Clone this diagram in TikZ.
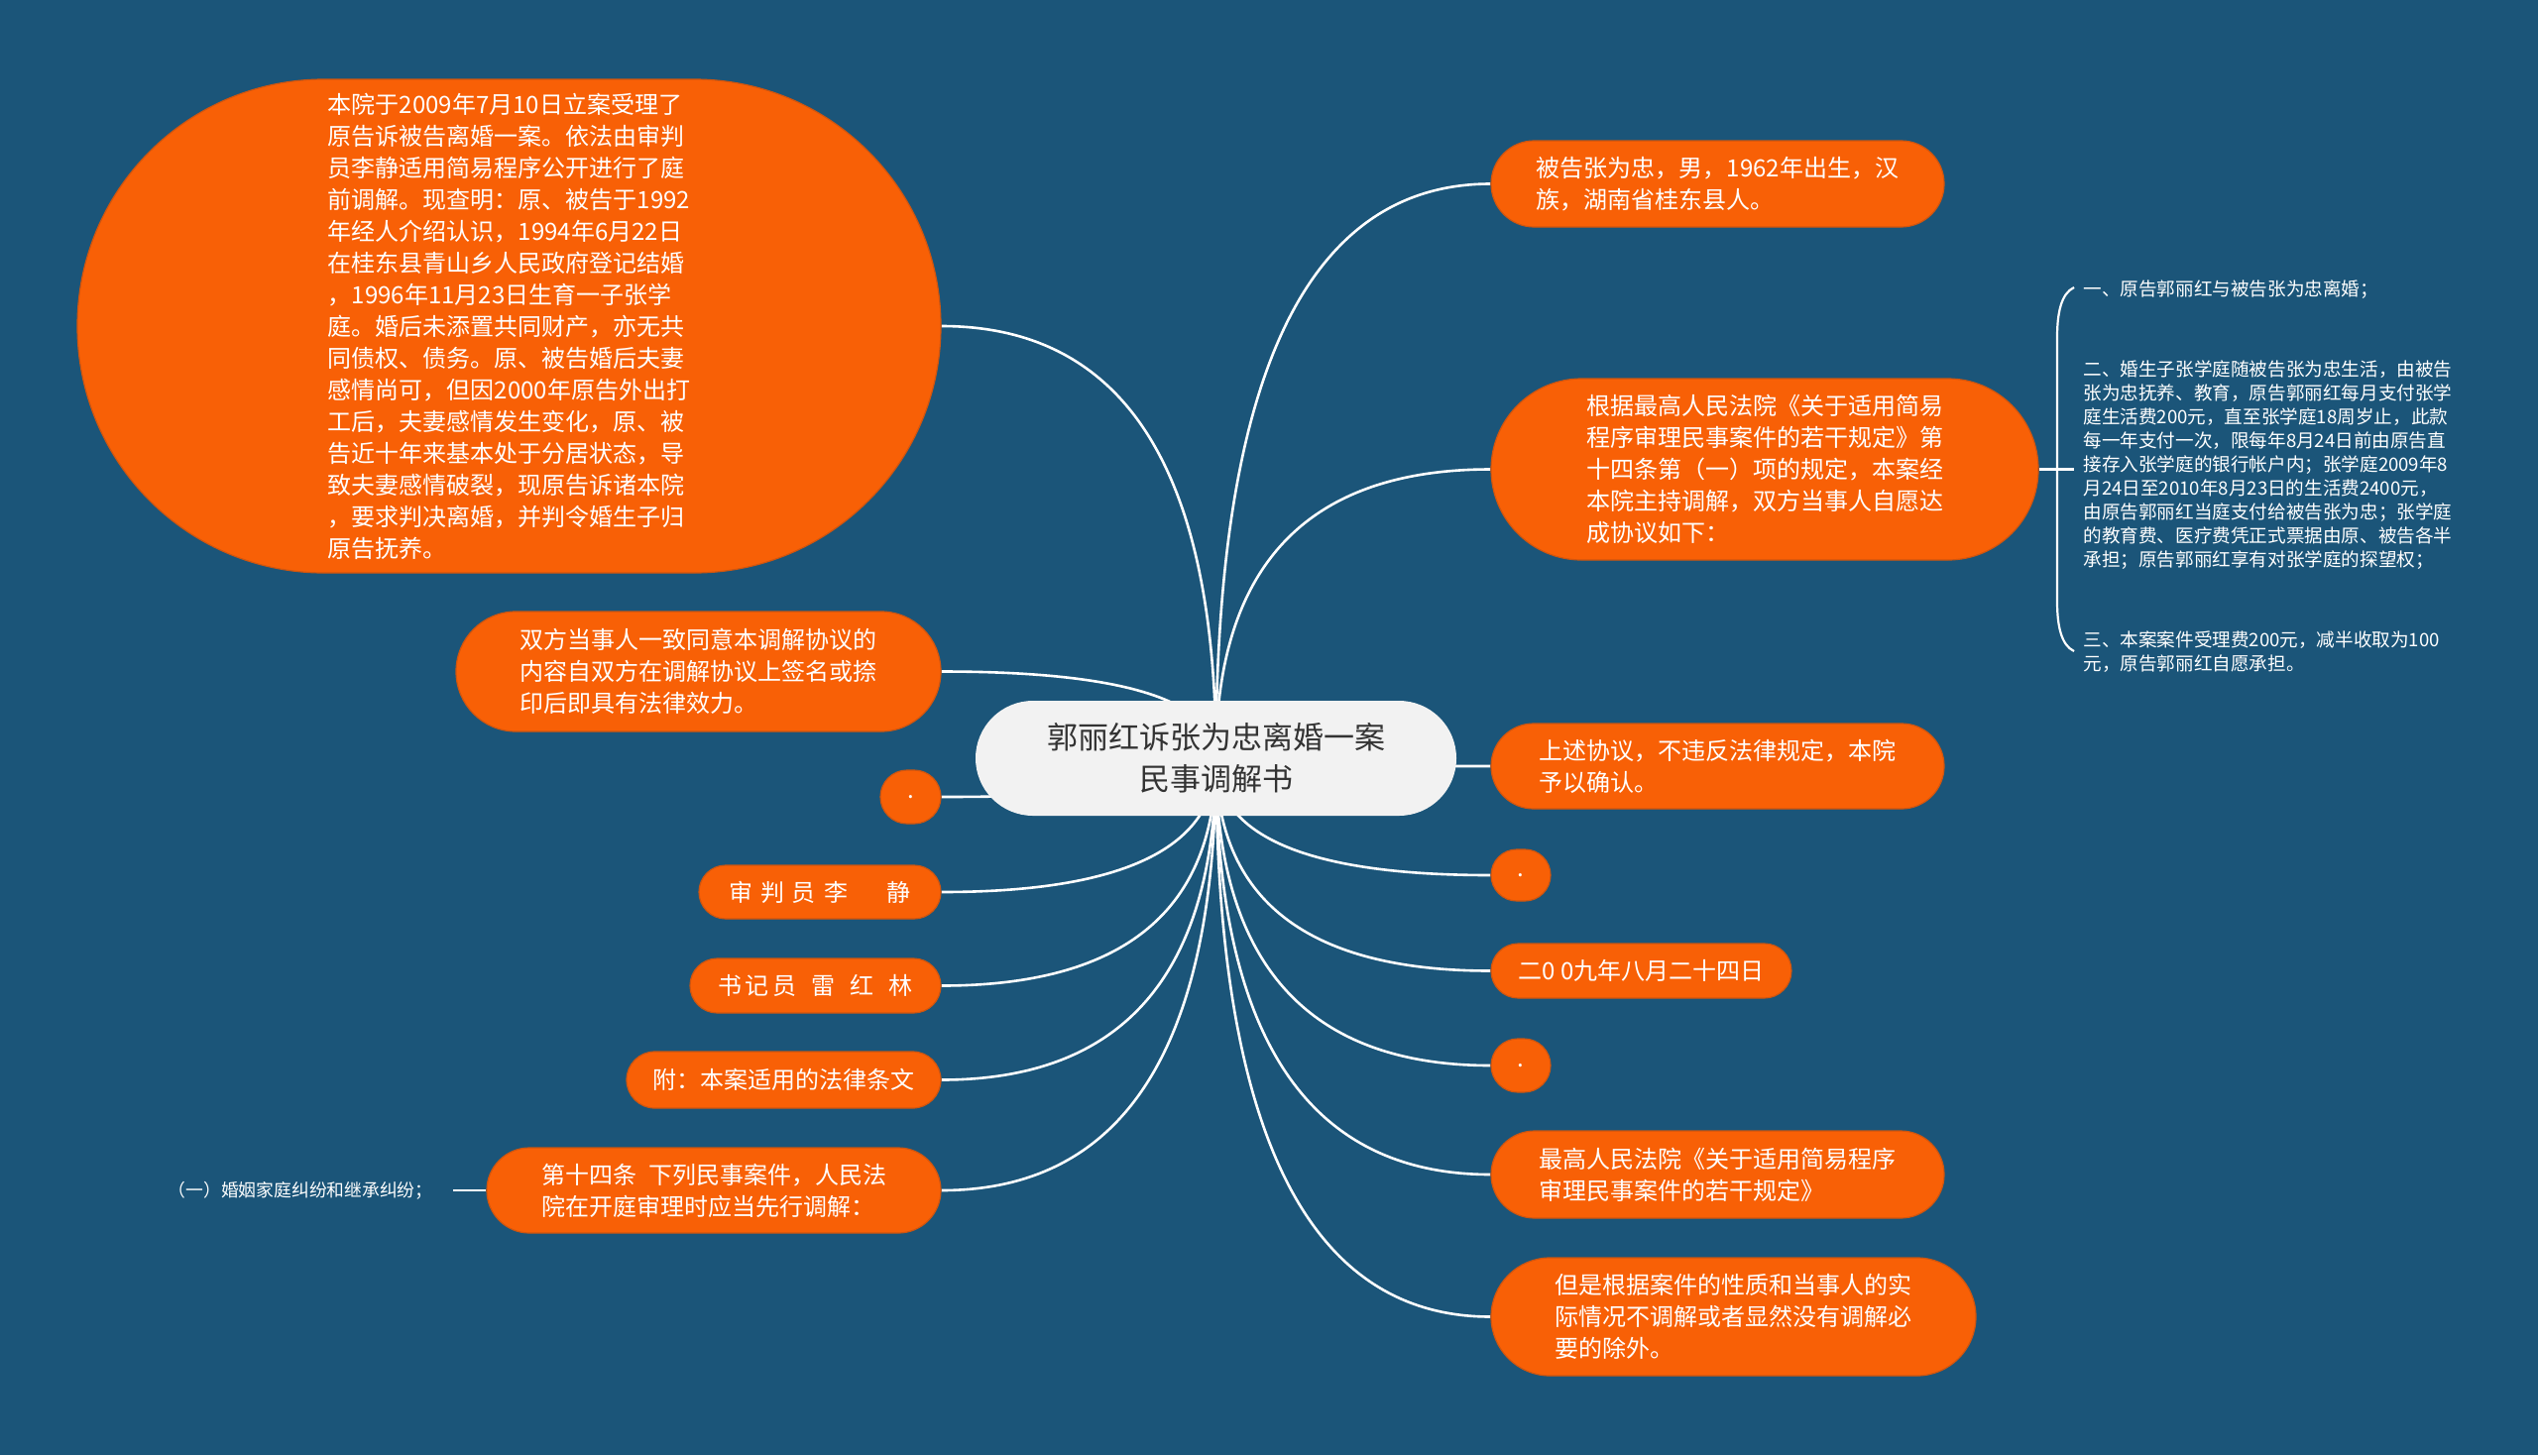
\documentclass[tikz,border=0pt]{standalone}
\usepackage{fontspec}
\setmainfont{Noto Sans CJK SC}
\usetikzlibrary{shapes.misc,calc}
\pgfdeclarelayer{bgl}
\pgfdeclarelayer{edgel}
\pgfsetlayers{bgl,edgel,main}
\definecolor{bgc}{HTML}{1B5579}
\definecolor{org}{HTML}{F86006}
\definecolor{orgd}{HTML}{D0550F}
\definecolor{ctrc}{HTML}{F2F2F2}
\definecolor{txtc}{HTML}{333333}
\newcommand\mmconn[1]{\draw[conn] (ctr.center) .. controls ($(ctr.center)!0.667!(ctr.center |- #1)$) and ($(#1)!0.667!(ctr.center |- #1)$) .. (#1);}
\begin{document}
\begin{tikzpicture}[x=0.5pt,y=-0.5pt,
  pill/.style 2 args={rounded rectangle, fill=org, draw=orgd, line width=0.6pt, text=white,
    inner sep=0pt, align=left, font=\fontsize{12}{16}\selectfont,
    minimum width=#1, minimum height=#2},
  rootbox/.style={rounded rectangle, fill=ctrc, draw=none, text=txtc, inner sep=0pt,
    align=center, font=\fontsize{15.5}{21}\selectfont, minimum width=242.5pt, minimum height=58pt},
  leaftext/.style={text=white, inner sep=0pt, align=left, font=\fontsize{9.3}{12}\selectfont},
  conn/.style={draw=white, line width=1.3pt}]
\path[use as bounding box] (0,0) rectangle (2560,1468);
\begin{pgfonlayer}{bgl}
\fill[bgc] (0,0) rectangle (2560,1468);
\end{pgfonlayer}

% root
\node[rootbox] (ctr) at (1226.5,765) {郭丽红诉张为忠离婚一案\\民事调解书};

% left side
\node[pill={435.5pt}{249pt}] (L1) at (513.5,329) {本院于2009年7月10日立案受理了\\原告诉被告离婚一案。依法由审判\\员李静适用简易程序公开进行了庭\\前调解。现查明：原、被告于1992\\年经人介绍认识，1994年6月22日\\在桂东县青山乡人民政府登记结婚\\，1996年11月23日生育一子张学\\庭。婚后未添置共同财产，亦无共\\同债权、债务。原、被告婚后夫妻\\感情尚可，但因2000年原告外出打\\工后，夫妻感情发生变化，原、被\\告近十年来基本处于分居状态，导\\致夫妻感情破裂，现原告诉诸本院\\，要求判决离婚，并判令婚生子归\\原告抚养。};
\node[pill={244.5pt}{60.5pt}] (L2) at (704.5,677.5) {双方当事人一致同意本调解协议的\\内容自双方在调解协议上签名或捺\\印后即具有法律效力。};
\node[pill={30.5pt}{27pt}] (L3) at (918.5,804) {.};
\node[pill={122pt}{27pt}] (L4) at (827,900) {审\hspace{4pt}判\hspace{4pt}员\hspace{4pt}李\hspace{20pt}静};
\node[pill={126.5pt}{27.5pt}] (L5) at (822.5,994.5) {书\hspace{2pt}记\hspace{2pt}员\hspace{7.5pt}雷\hspace{7.5pt}红\hspace{7.5pt}林};
\node[pill={158.5pt}{28.5pt}] (L6) at (790.5,1089.5) {附：本案适用的法律条文};
\node[pill={229pt}{43pt}] (L7) at (720,1201) {第十四条\hspace{6pt}下列民事案件，人民法\\院在开庭审理时应当先行调解：};
\node[leaftext, font=\fontsize{8.9}{11}\selectfont, anchor=east, inner xsep=10pt] (L7c) at (457,1201) {（一）婚姻家庭纠纷和继承纠纷；};

% right side
\node[pill={228.5pt}{43.5pt}] (R1) at (1732.5,185.5) {被告张为忠，男，1962年出生，汉\\族，湖南省桂东县人。};
\node[pill={276pt}{91.5pt}] (R2) at (1780,473.5) {根据最高人民法院《关于适用简易\\程序审理民事案件的若干规定》第\\十四条第（一）项的规定，本案经\\本院主持调解，双方当事人自愿达\\成协议如下：};
\node[pill={228.5pt}{43pt}] (R3) at (1732.5,773) {上述协议，不违反法律规定，本院\\予以确认。};
\node[pill={30pt}{26pt}] (R4) at (1534,883) {.};
\node[pill={151.5pt}{27.5pt}] (R5) at (1655.5,979.5) {二0 0九年八月二十四日};
\node[pill={30pt}{27pt}] (R6) at (1534,1075) {.};
\node[pill={228.5pt}{44pt}] (R7) at (1732.5,1185) {最高人民法院《关于适用简易程序\\审理民事案件的若干规定》};
\node[pill={244.5pt}{59.5pt}] (R8) at (1748.5,1328.5) {但是根据案件的性质和当事人的实\\际情况不调解或者显然没有调解必\\要的除外。};

% children of R2
\node[leaftext, anchor=west] (C1) at (2101,292) {一、原告郭丽红与被告张为忠离婚；};
\node[leaftext, anchor=west] (C2) at (2101,469) {二、婚生子张学庭随被告张为忠生活，由被告\\张为忠抚养、教育，原告郭丽红每月支付张学\\庭生活费200元，直至张学庭18周岁止，此款\\每一年支付一次，限每年8月24日前由原告直\\接存入张学庭的银行帐户内；张学庭2009年8\\月24日至2010年8月23日的生活费2400元，\\由原告郭丽红当庭支付给被告张为忠；张学庭\\的教育费、医疗费凭正式票据由原、被告各半\\承担；原告郭丽红享有对张学庭的探望权；};
\node[leaftext, anchor=west] (C3) at (2101,658) {三、本案案件受理费200元，减半收取为100\\元，原告郭丽红自愿承担。};
\coordinate (bt) at (2092,290);
\coordinate (bb) at (2092,657);
\coordinate (bm) at (2092,473.5);

\begin{pgfonlayer}{edgel}
\mmconn{L1.east}
\mmconn{L2.east}
\mmconn{L3.east}
\mmconn{L4.east}
\mmconn{L5.east}
\mmconn{L6.east}
\mmconn{L7.east}
\mmconn{R1.west}
\mmconn{R2.west}
\mmconn{R3.west}
\mmconn{R4.west}
\mmconn{R5.west}
\mmconn{R6.west}
\mmconn{R7.west}
\mmconn{R8.west}
\draw[conn] (L7c.east) -- (L7.west);
\draw[conn] (R2.east) -- (bm);
\draw[conn, line width=1.1pt] (bt) .. controls (2079,296) and (2075,316) .. (2075,340) -- (2075,607) .. controls (2075,631) and (2079,651) .. (bb);
\end{pgfonlayer}
\end{tikzpicture}
\end{document}
